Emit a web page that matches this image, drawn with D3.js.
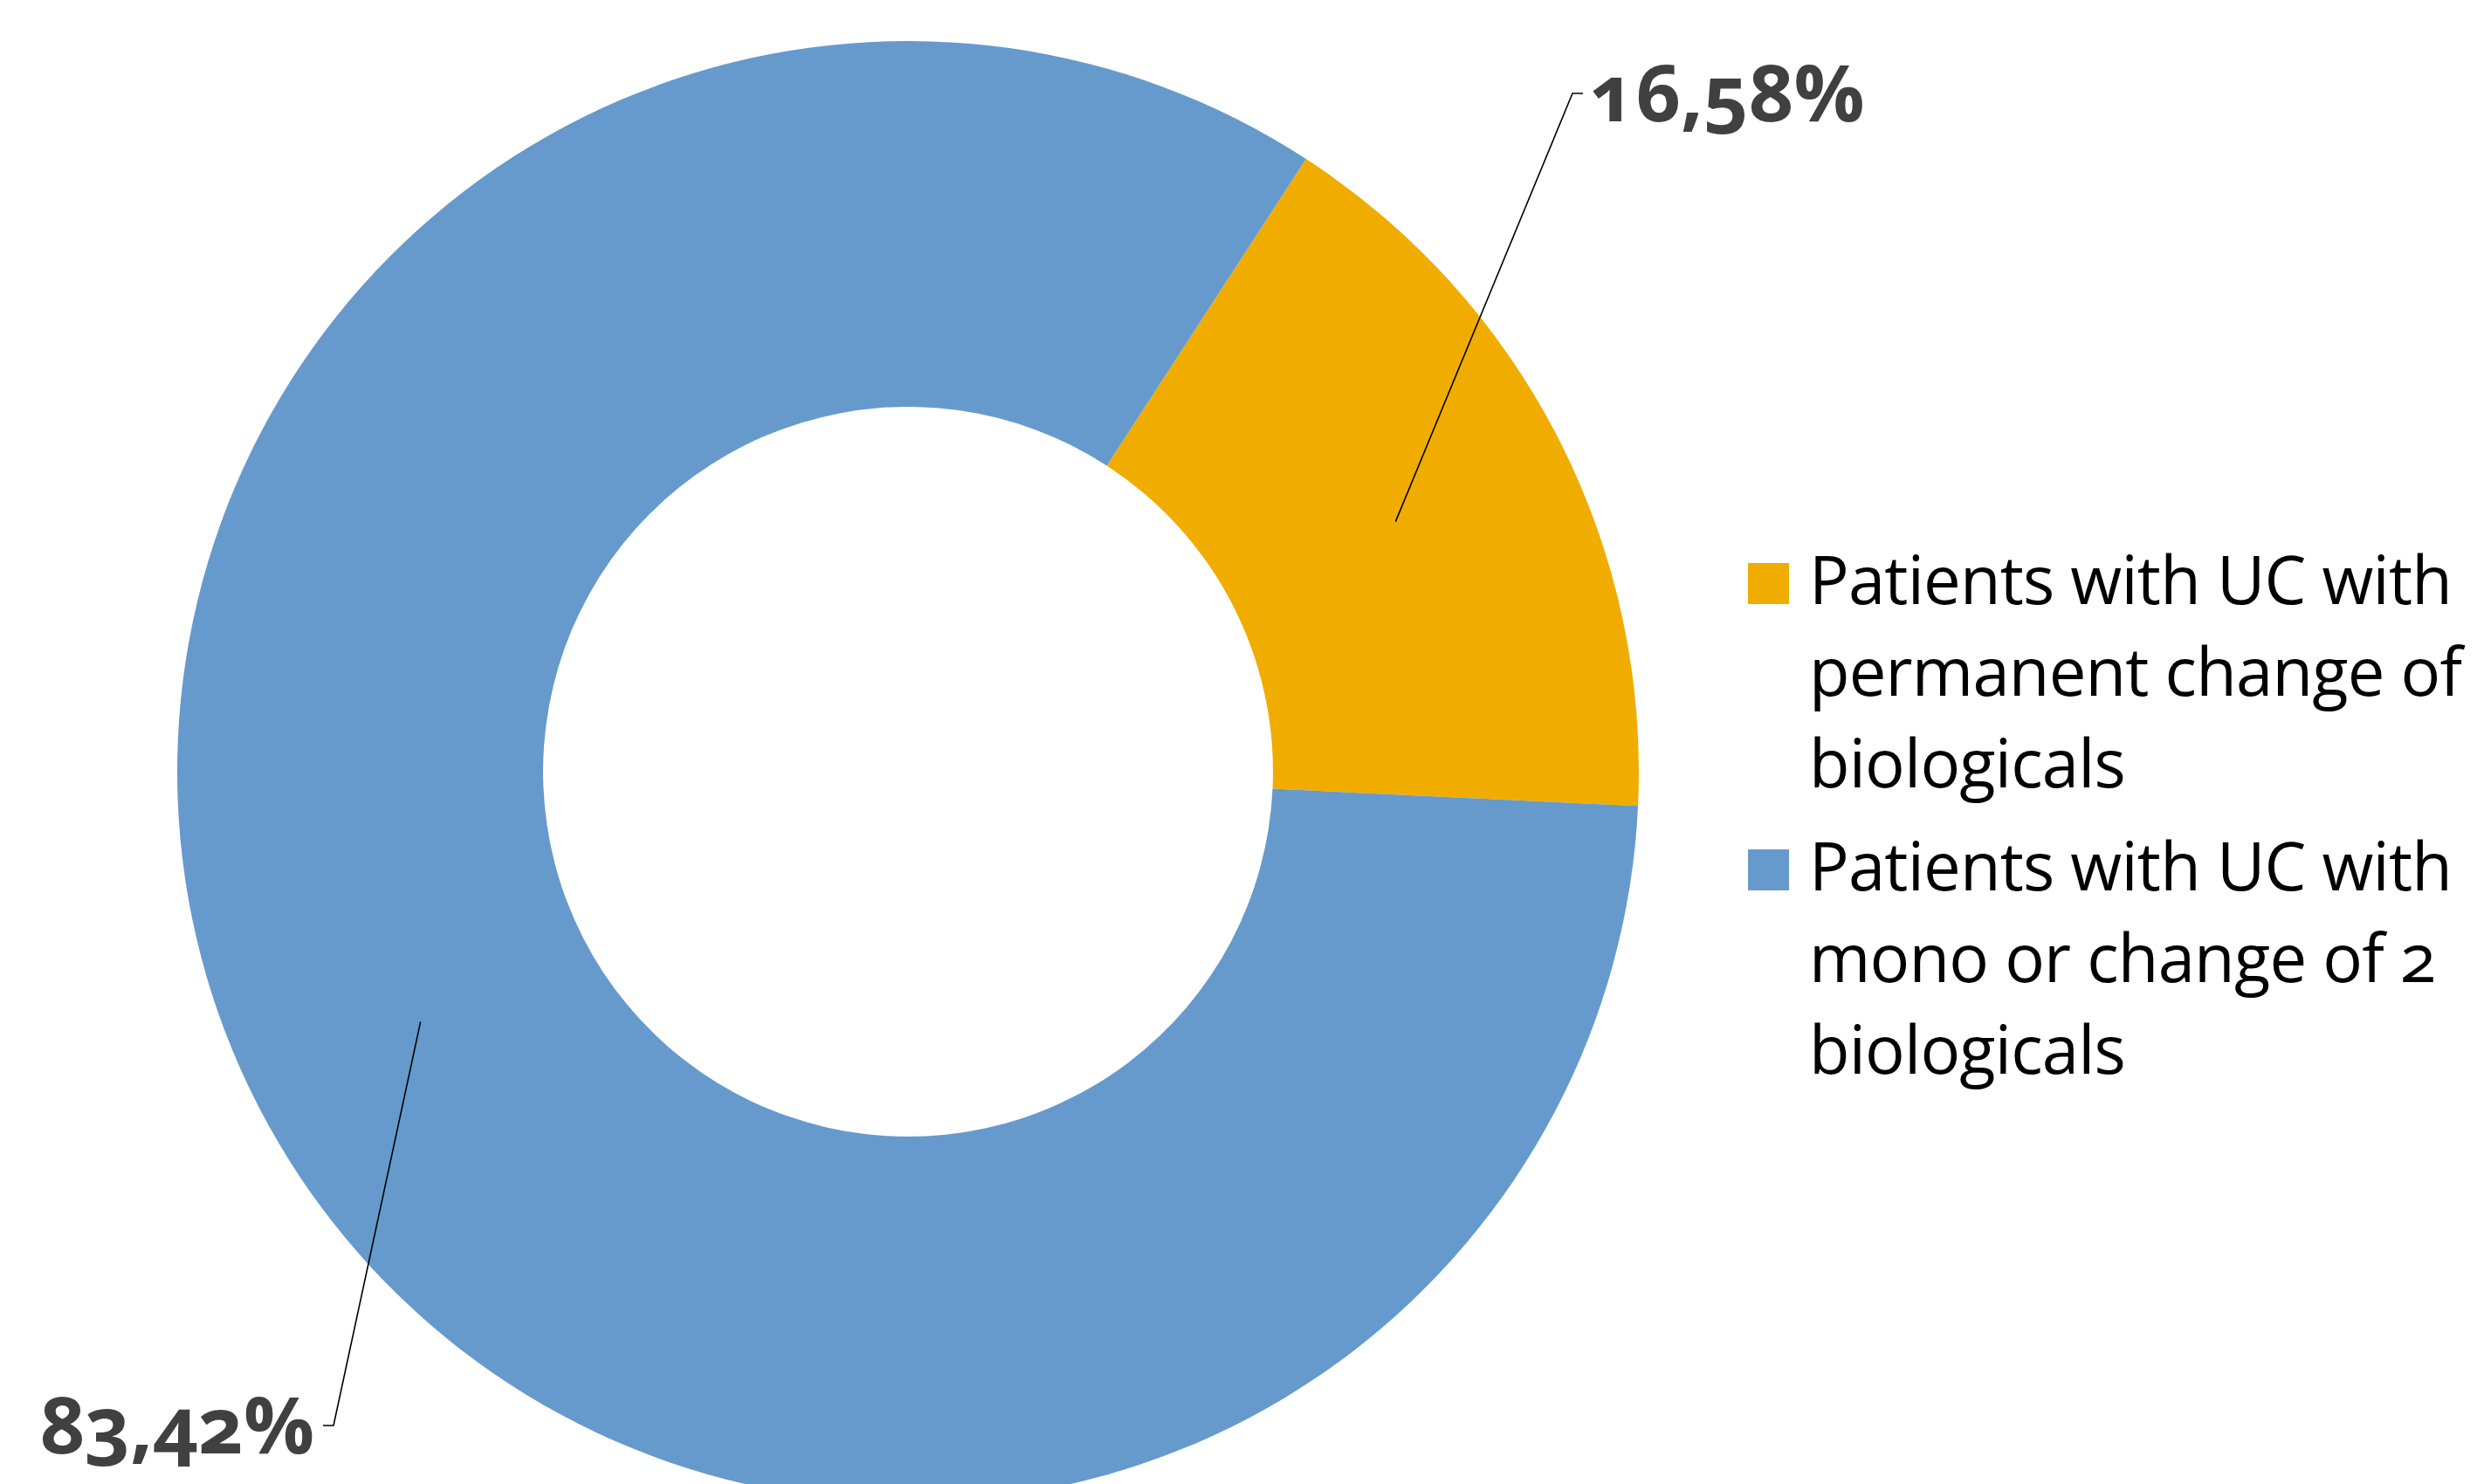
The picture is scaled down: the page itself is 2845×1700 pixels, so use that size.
<!DOCTYPE html>
<meta charset="utf-8">
<style>

body {
  margin: 0;
  background: #fff;
}

.label {
  font-family: "Open Sans", sans-serif;
  font-weight: bold;
  font-size: 90px;
  fill: #404040;
  font-variant-numeric: oldstyle-nums;
}

.legend text {
  font-family: "Open Sans", sans-serif;
  font-size: 76px;
  letter-spacing: -0.8px;
  fill: #000;
  font-variant-numeric: oldstyle-nums;
}

.leader {
  fill: none;
  stroke: #000;
  stroke-width: 1.6px;
}

</style>
<body>
<script src="https://cdnjs.cloudflare.com/ajax/libs/d3/7.8.5/d3.min.js"></script>
<div id="container"></div>

<script>

// data
var categories = [
  "Patients with UC with permanent change of biologicals",
  "Patients with UC with mono or change of 2 biologicals"
];
var values = [16.58, 83.42];
var legendLines = [
  ["Patients with UC with", "permanent change of", "biologicals"],
  ["Patients with UC with", "mono or change of 2", "biologicals"]
];
var colors = ["#F0AD00", "#669ACC"];

// layout
var width = 2845,
    height = 1700,
    cx = 1040,
    cy = 884,
    outerR = 837,
    innerR = 418;

// where each data label sits (end of the leader tick)
var labelAnchors = [
  {x: 1813, y: 107, side: "right"},
  {x: 370, y: 1633, side: "left"}
];

var fmt = function(v) { return d3.format(".2f")(v).replace(".", ",") + "%"; };

var svg = d3.select("#container")
  .append("svg")
    .attr("width", width)
    .attr("height", height);

svg.append("rect")
    .attr("width", width)
    .attr("height", height)
    .attr("fill", "#fff");

var pie = d3.pie()
    .sort(null)
    .startAngle(33 * Math.PI / 180)
    .endAngle(33 * Math.PI / 180 + 2 * Math.PI);

var arc = d3.arc()
    .innerRadius(innerR)
    .outerRadius(outerR);

var arcs = pie(values);

var g = svg.append("g")
    .attr("transform", "translate(" + cx + "," + cy + ")");

g.selectAll("path.slice")
    .data(arcs)
  .enter().append("path")
    .attr("class", "slice")
    .attr("fill", function(d, i) { return colors[i]; })
    .attr("d", arc);

// leader lines + labels
var tick = 12;
arcs.forEach(function(d, i) {
  var c = arc.centroid(d);
  var a = labelAnchors[i];
  var dir = a.side === "right" ? -1 : 1;
  var elbow = [a.x + dir * tick - cx, a.y - cy];
  var end = [a.x - cx, a.y - cy];

  g.append("path")
      .attr("class", "leader")
      .attr("d", d3.line()([c, elbow, end]));

  svg.append("text")
      .attr("class", "label")
      .attr("x", a.side === "right" ? a.x + 8 : a.x - 10)
      .attr("y", a.y + 32)
      .attr("text-anchor", a.side === "right" ? "start" : "end")
      .text(fmt(values[i]));
});

// legend
var legend = svg.append("g")
    .attr("class", "legend")
    .attr("transform", "translate(2002,0)");

var entryTop = [692, 1020],
    lineH = 105,
    sw = 47;

legendLines.forEach(function(lines, i) {
  var item = legend.append("g").attr("transform", "translate(0," + entryTop[i] + ")");
  item.append("rect")
      .attr("x", 0)
      .attr("y", -sw)
      .attr("width", sw)
      .attr("height", sw)
      .attr("fill", colors[i]);
  item.append("title").text(categories[i]);
  item.selectAll("text")
      .data(lines)
    .enter().append("text")
      .attr("x", 70)
      .attr("y", function(d, j) { return j * lineH; })
      .text(function(d) { return d; });
});

</script>
